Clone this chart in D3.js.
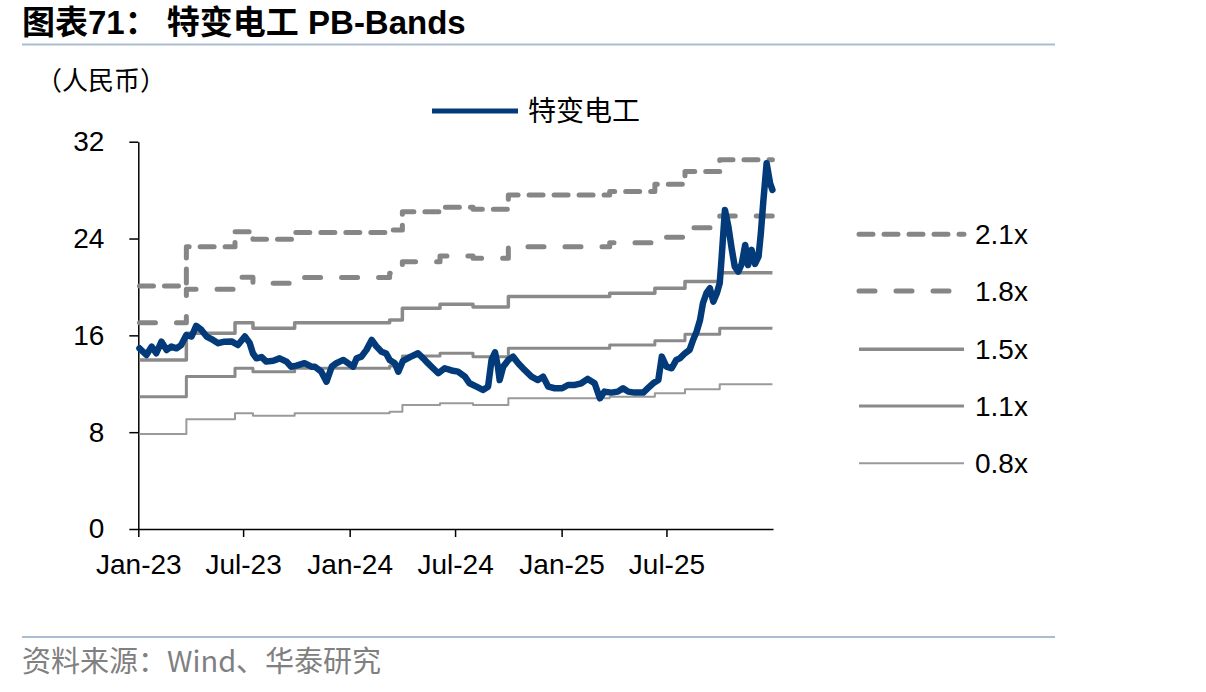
<!DOCTYPE html>
<html><head><meta charset="utf-8">
<script src="https://cdn.jsdelivr.net/npm/d3@7"></script>
<style>body{margin:0;background:#fff}svg{display:block}</style>
</head><body>
<svg id="c" width="1206" height="692"></svg>
<script>
// ---------- data ----------
const seriesName = "特变电工";
const bandLabels = ["2.1x", "1.8x", "1.5x", "1.1x", "0.8x"];
const yTicks = [0, 8, 16, 24, 32];
const xTickDates = ["2023-01-01","2023-07-01","2024-01-01","2024-07-01","2025-01-01","2025-07-01"];
const xTickLabels = ["Jan-23","Jul-23","Jan-24","Jul-24","Jan-25","Jul-25"];

const bandDates = ["2023-01-03","2023-03-25","2023-06-17","2023-07-18","2023-09-28","2024-03-10","2024-04-01",
  "2024-06-05","2024-08-01","2024-10-01","2025-03-25","2025-06-11","2025-08-02","2025-10-01","2025-12-31"];
const band21 = [20.08,23.33,24.57,23.94,24.49,24.70,26.22,26.59,26.42,27.60,27.88,28.49,29.53,30.50];
const band18 = [17.05,19.81,20.80,20.31,20.77,21.13,22.09,22.56,22.37,23.33,23.66,24.11,24.90,25.87];
const band15 = [13.97,16.17,17.05,16.59,17.05,17.27,18.24,18.57,18.35,19.20,19.48,19.89,20.44,21.18];
const band11 = [10.93,12.59,13.28,13.00,13.28,13.47,14.30,14.52,14.24,14.93,15.21,15.56,16.09,16.59];
const band08 = [7.85,9.07,9.56,9.36,9.56,9.69,10.25,10.39,10.25,10.80,10.93,11.21,11.54,11.96];

const priceDates = ["2023-01-03","2023-01-06","2023-01-15","2023-01-24","2023-02-01","2023-02-10","2023-02-19","2023-02-27",
  "2023-03-08","2023-03-16","2023-03-25","2023-04-03","2023-04-11","2023-04-20","2023-04-29","2023-05-10","2023-05-19",
  "2023-05-30","2023-06-11","2023-06-22","2023-07-04","2023-07-12","2023-07-18","2023-07-24","2023-08-02","2023-08-10",
  "2023-08-22","2023-09-02","2023-09-14","2023-09-22","2023-10-01","2023-10-15","2023-10-27","2023-11-02","2023-11-13",
  "2023-11-22","2023-12-01","2023-12-09","2023-12-21","2023-12-29","2024-01-07","2024-01-13","2024-01-21","2024-01-30",
  "2024-02-08","2024-02-16","2024-02-25","2024-03-04","2024-03-10","2024-03-19","2024-03-25","2024-04-02","2024-04-14",
  "2024-04-28","2024-05-07","2024-05-15","2024-05-24","2024-06-02","2024-06-13","2024-06-25","2024-07-06","2024-07-18",
  "2024-07-26","2024-08-07","2024-08-18","2024-08-27","2024-09-02","2024-09-08","2024-09-13","2024-09-16","2024-09-22",
  "2024-10-01","2024-10-09","2024-10-18","2024-10-29","2024-11-10","2024-11-21","2024-11-30","2024-12-09","2024-12-20",
  "2025-01-02","2025-01-12","2025-01-24","2025-02-04","2025-02-15","2025-02-27","2025-03-08","2025-03-16","2025-03-28",
  "2025-04-08","2025-04-17","2025-04-26","2025-05-07","2025-05-22","2025-05-30","2025-06-08","2025-06-17","2025-06-23",
  "2025-07-01","2025-07-10","2025-07-18","2025-07-24","2025-08-02","2025-08-10","2025-08-16","2025-08-22","2025-08-28",
  "2025-09-02","2025-09-08","2025-09-14","2025-09-20","2025-09-26","2025-10-01","2025-10-04","2025-10-10","2025-10-16",
  "2025-10-22","2025-10-27","2025-11-02","2025-11-08","2025-11-14","2025-11-19","2025-11-25","2025-12-01","2025-12-07",
  "2025-12-11","2025-12-15","2025-12-21","2025-12-27","2025-12-31"];
const priceValues = [14.93,14.79,14.38,15.07,14.52,15.48,14.79,15.07,
  14.93,15.20,16.03,15.90,16.78,16.45,15.90,15.62,15.35,
  15.48,15.50,15.20,15.90,15.40,14.50,14.10,14.20,13.83,
  13.90,14.10,13.83,13.41,13.50,13.70,13.41,13.41,13.00,
  12.17,13.41,13.70,13.97,13.70,13.41,14.10,14.24,14.80,
  15.62,15.10,14.65,14.50,13.97,13.70,13.00,13.90,14.20,
  14.52,14.10,13.70,13.28,12.87,13.28,13.10,13.00,12.59,
  12.04,11.76,11.49,11.76,13.97,14.60,13.40,12.31,13.40,
  13.97,14.24,13.70,13.14,12.59,12.31,12.59,11.76,11.63,
  11.63,11.90,11.90,12.04,12.40,12.04,10.80,11.35,11.27,
  11.35,11.63,11.35,11.27,11.27,11.63,12.04,12.31,14.24,
  13.41,13.28,13.97,14.10,14.52,14.80,15.62,16.30,17.27,
  18.65,19.48,19.89,18.79,19.48,20.31,22.23,26.36,24.98,
  23.06,21.68,21.27,21.90,23.47,21.82,23.06,21.90,22.50,
  24.44,26.92,30.22,28.57,28.02];

// ---------- setup ----------
const parse = d3.timeParse("%Y-%m-%d");
const svg = d3.select("#c");
const FONT = "'Liberation Sans', Arial, 'Noto Sans CJK SC', sans-serif";
const CJK = "'Noto Sans CJK SC', 'Liberation Sans', sans-serif";
const TITLEF = "'Liberation Sans', 'Noto Sans CJK SC', sans-serif";

const x = d3.scaleTime().domain([parse("2023-01-01"), parse("2026-01-01")]).range([138.3, 773]);
const y = d3.scaleLinear().domain([0, 32]).range([529, 141.7]);

// title
svg.append("text").attr("x", 22).attr("y", 34)
  .attr("font-family", TITLEF).attr("font-weight", "bold").attr("font-size", 33).attr("fill", "#000")
  .text("图表71：  特变电工 PB-Bands");
svg.append("line").attr("x1", 22).attr("x2", 1055).attr("y1", 44.5).attr("y2", 44.5)
  .attr("stroke", "#a9bcd2").attr("stroke-width", 2);

// unit
svg.append("text").attr("x", 36).attr("y", 90).attr("font-family", CJK).attr("font-size", 26)
  .attr("fill", "#000").text("（人民币）");

// bottom source
svg.append("line").attr("x1", 22).attr("x2", 1055).attr("y1", 637).attr("y2", 637)
  .attr("stroke", "#a9bcd2").attr("stroke-width", 2);
svg.append("text").attr("x", 22).attr("y", 672).attr("font-family", CJK).attr("font-size", 29)
  .attr("fill", "#808080").text("资料来源：Wind、华泰研究");

// axes
const yAxis = d3.axisLeft(y).tickValues(yTicks).tickSize(9).tickSizeOuter(0).tickPadding(25);
const gy = svg.append("g").attr("transform", `translate(${x.range()[0]},0)`).call(yAxis);
gy.selectAll("text").attr("font-family", FONT).attr("font-size", 28).attr("fill", "#000");
gy.selectAll("line,path").attr("stroke", "#000").attr("stroke-width", 1.5);

const xAxis = d3.axisBottom(x).tickValues(xTickDates.map(parse)).tickSize(8).tickSizeOuter(0).tickPadding(17)
  .tickFormat((d, i) => xTickLabels[i]);
const gx = svg.append("g").attr("transform", `translate(0,${y(0)})`).call(xAxis);
gx.selectAll("text").attr("font-family", FONT).attr("font-size", 28).attr("fill", "#000");
gx.selectAll("line,path").attr("stroke", "#000").attr("stroke-width", 1.5);

// bands
const bandStyles = [
  {vals: band21, w: 5, dash: "14,11", color: "#868686"},
  {vals: band18, w: 5, dash: "16,21", color: "#868686"},
  {vals: band15, w: 3.5, dash: null, color: "#8a8a8a"},
  {vals: band11, w: 3, dash: null, color: "#8a8a8a"},
  {vals: band08, w: 2, dash: null, color: "#9a9a9a"}
];
const stepLine = d3.line().x(d => x(d.d)).y(d => y(d.v)).curve(d3.curveStepAfter);
bandStyles.forEach(s => {
  const pts = bandDates.map((d, i) => ({d: parse(d), v: s.vals[Math.min(i, s.vals.length - 1)]}));
  svg.append("path").datum(pts).attr("d", stepLine).attr("fill", "none")
    .attr("stroke", s.color).attr("stroke-width", s.w)
    .attr("stroke-dasharray", s.dash).attr("stroke-linecap", s.dash ? "round" : "butt")
    .attr("stroke-linejoin", "round");
});

// price
const priceLine = d3.line().x(d => x(d.d)).y(d => y(d.v));
const pricePts = priceDates.map((d, i) => ({d: parse(d), v: priceValues[i]}));
svg.append("path").datum(pricePts).attr("d", priceLine).attr("fill", "none")
  .attr("stroke", "#023a7a").attr("stroke-width", 6.5).attr("stroke-linejoin", "round").attr("stroke-linecap", "round");

// top legend
svg.append("line").attr("x1", 432).attr("x2", 518).attr("y1", 111).attr("y2", 111)
  .attr("stroke", "#023a7a").attr("stroke-width", 5);
svg.append("text").attr("x", 528).attr("y", 111).attr("dy", "0.36em").attr("font-family", CJK).attr("font-size", 28)
  .attr("fill", "#000").text(seriesName);

// right legend
const legY = [234.3, 291, 349.3, 406, 463.3];
bandStyles.forEach((s, i) => {
  svg.append("line").attr("x1", 859).attr("x2", 964).attr("y1", legY[i]).attr("y2", legY[i])
    .attr("stroke", s.color).attr("stroke-width", s.w)
    .attr("stroke-dasharray", s.dash).attr("stroke-linecap", s.dash ? "round" : "butt");
  svg.append("text").attr("x", 975).attr("y", legY[i]).attr("dy", "0.36em")
    .attr("font-family", FONT).attr("font-size", 28).attr("fill", "#000").text(bandLabels[i]);
});
</script></body></html>
